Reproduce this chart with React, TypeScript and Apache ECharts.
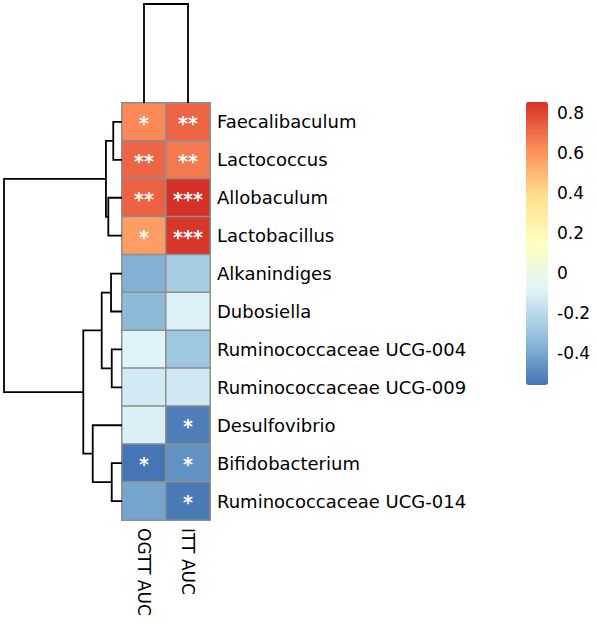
import React, { useEffect, useRef } from 'react';
import * as echarts from 'echarts';

const genera = [
  'Faecalibaculum',
  'Lactococcus',
  'Allobaculum',
  'Lactobacillus',
  'Alkanindiges',
  'Dubosiella',
  'Ruminococcaceae UCG-004',
  'Ruminococcaceae UCG-009',
  'Desulfovibrio',
  'Bifidobacterium',
  'Ruminococcaceae UCG-014',
];
const measures = ['OGTT AUC', 'ITT AUC'];
const ogttCorr = [0.63, 0.72, 0.73, 0.57, -0.37, -0.34, -0.09, -0.13, -0.11, -0.56, -0.41];
const ittCorr = [0.72, 0.67, 0.855, 0.84, -0.26, -0.1, -0.29, -0.14, -0.53, -0.47, -0.54];
const ogttStars = ['*', '**', '**', '*', '', '', '', '', '', '*', ''];
const ittStars = ['**', '**', '***', '***', '', '', '', '', '*', '*', '*'];

const colorTicks = [0.8, 0.6, 0.4, 0.2, 0, -0.2, -0.4];
const colorMin = -0.56;
const colorMax = 0.855;
const palette = ['#4575B4', '#91BFDB', '#E0F3F8', '#FFFFBF', '#FEE090', '#FC8D59', '#D73027'];

// hclust-style merges: negative = leaf (1-based), positive = earlier merge (1-based)
const rowMergeLeft = [-1, -3, 1, -5, -7, 4, -10, -9, 6, 3];
const rowMergeRight = [-2, -4, 2, -6, -8, 5, -11, 7, 8, 9];
const rowMergeHeight = [0.074, 0.116, 0.136, 0.093, 0.087, 0.172, 0.087, 0.248, 0.328, 1.0];

const colMergeLeft = [-1];
const colMergeRight = [-2];
const colMergeHeight = [1.0];

function buildSegments(left: number[], right: number[], height: number[]) {
  const pos: number[] = [];
  const hs: number[] = [];
  const segs: number[][] = [];
  const info = (k: number) => (k < 0 ? [-k - 1, 0] : [pos[k - 1], hs[k - 1]]);
  for (let i = 0; i < left.length; i++) {
    const [pl, hl] = info(left[i]);
    const [pr, hr] = info(right[i]);
    pos.push((pl + pr) / 2);
    hs.push(height[i]);
    segs.push([height[i], pl, hl, pr, hr]);
  }
  return segs;
}

const FONT = 'DejaVu Sans';

export default function App() {
  const ref = useRef<HTMLDivElement>(null);
  useEffect(() => {
    if (!ref.current) return;
    const chart = echarts.init(ref.current, undefined, { renderer: 'svg' });

    const heatData: any[] = [];
    genera.forEach((g, r) => {
      heatData.push({ value: [0, r, ogttCorr[r]], stars: ogttStars[r] });
      heatData.push({ value: [1, r, ittCorr[r]], stars: ittStars[r] });
    });
    const rowSegs = buildSegments(rowMergeLeft, rowMergeRight, rowMergeHeight);
    const colSegs = buildSegments(colMergeLeft, colMergeRight, colMergeHeight);
    const rowRootH = Math.max(...rowMergeHeight);
    const colRootH = Math.max(...colMergeHeight);
    const lineStyle = { stroke: '#000', lineWidth: 1.8, fill: 'none' };

    const option: any = {
      animation: false,
      backgroundColor: '#fff',
      textStyle: { fontFamily: FONT },
      grid: [
        { left: 122, top: 103, width: 88, height: 417 },
        { left: 4, top: 103, width: 118, height: 417 },
        { left: 122, top: 4, width: 88, height: 99 },
        { left: 526, top: 102, width: 22, height: 283 },
      ],
      xAxis: [
        {
          gridIndex: 0,
          type: 'category',
          data: measures,
          position: 'bottom',
          axisLine: { show: false },
          axisTick: { show: false },
          splitLine: { show: false },
          axisLabel: { rotate: -90, fontSize: 17, color: '#000', margin: 8, fontFamily: FONT },
        },
        { gridIndex: 1, type: 'value', min: 0, max: rowRootH, inverse: true, show: false },
        { gridIndex: 2, type: 'value', min: -0.5, max: measures.length - 0.5, show: false },
        { gridIndex: 3, type: 'value', min: 0, max: 1, show: false },
      ],
      yAxis: [
        {
          gridIndex: 0,
          type: 'category',
          data: genera,
          inverse: true,
          position: 'right',
          axisLine: { show: false },
          axisTick: { show: false },
          splitLine: { show: false },
          axisLabel: { fontSize: 18, color: '#000', margin: 7, fontFamily: FONT },
        },
        { gridIndex: 1, type: 'value', min: -0.5, max: genera.length - 0.5, inverse: true, show: false },
        { gridIndex: 2, type: 'value', min: 0, max: colRootH, show: false },
        {
          gridIndex: 3,
          type: 'value',
          min: colorMin,
          max: colorMax,
          position: 'right',
          axisLine: { show: false },
          axisTick: { show: false },
          splitLine: { show: false },
          axisLabel: {
            customValues: colorTicks,
            fontSize: 17,
            color: '#000',
            margin: 9,
            fontFamily: FONT,
            formatter: (v: number) => String(Math.round(v * 10) / 10),
          },
        },
      ],
      visualMap: {
        type: 'continuous',
        min: colorMin,
        max: colorMax,
        dimension: 2,
        seriesIndex: 0,
        left: 526,
        top: 102,
        padding: 0,
        itemWidth: 22,
        itemHeight: 283,
        calculable: false,
        hoverLink: false,
        inRange: { color: palette },
      },
      series: [
        {
          type: 'heatmap',
          xAxisIndex: 0,
          yAxisIndex: 0,
          data: heatData,
          itemStyle: { borderColor: '#8e8e8e', borderWidth: 1.5 },
          label: {
            show: true,
            formatter: (p: any) => (p.data && p.data.stars) || '',
            color: '#fff',
            fontSize: 19,
            fontWeight: 'bold',
            fontFamily: FONT,
            offset: [0, 1],
          },
          emphasis: { disabled: true },
        },
        {
          type: 'custom',
          xAxisIndex: 1,
          yAxisIndex: 1,
          data: rowSegs,
          silent: true,
          renderItem: (params: any, api: any) => {
            const h = api.value(0), pl = api.value(1), hl = api.value(2), pr = api.value(3), hr = api.value(4);
            return {
              type: 'polyline',
              shape: { points: [api.coord([hl, pl]), api.coord([h, pl]), api.coord([h, pr]), api.coord([hr, pr])] },
              style: lineStyle,
            };
          },
        },
        {
          type: 'custom',
          xAxisIndex: 2,
          yAxisIndex: 2,
          data: colSegs,
          silent: true,
          renderItem: (params: any, api: any) => {
            const h = api.value(0), pl = api.value(1), hl = api.value(2), pr = api.value(3), hr = api.value(4);
            return {
              type: 'polyline',
              shape: { points: [api.coord([pl, hl]), api.coord([pl, h]), api.coord([pr, h]), api.coord([pr, hr])] },
              style: lineStyle,
            };
          },
        },
      ],
    };
    chart.setOption(option);
    return () => chart.dispose();
  }, []);
  return <div ref={ref} style={{ position: 'fixed', left: 0, top: 0, width: 597, height: 624 }} />;
}
